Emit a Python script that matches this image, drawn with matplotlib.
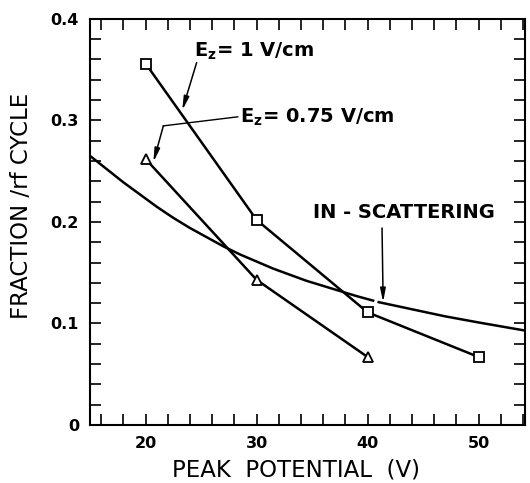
import numpy as np
import matplotlib
matplotlib.use("Agg")
import matplotlib.pyplot as plt
from matplotlib.ticker import MultipleLocator

# data
v_1 = [20, 30, 40, 50]
frac_1 = [0.356, 0.202, 0.111, 0.067]          # E_z = 1 V/cm
v_075 = [20, 30, 40]
frac_075 = [0.262, 0.143, 0.067]               # E_z = 0.75 V/cm
# in-scattering curve, broken where the arrow meets it
v_scat_a = [15, 16.5, 18, 19.5, 21, 22.5, 24, 25.5, 27, 28.5, 30, 31.5,
            33, 34.5, 36, 37.5, 39, 40.5]
frac_scat_a = [0.265, 0.252, 0.239, 0.227, 0.215, 0.204, 0.194, 0.185,
               0.176, 0.168, 0.161, 0.154, 0.148, 0.142, 0.137, 0.132,
               0.127, 0.1225]
v_scat_b = [41, 44, 47, 50, 54.2]
frac_scat_b = [0.121, 0.114, 0.107, 0.101, 0.093]

xticks = [20, 30, 40, 50]
yticks = [0, 0.1, 0.2, 0.3, 0.4]
yticklabels = ["0", "0.1", "0.2", "0.3", "0.4"]

plt.rcParams['font.family'] = 'DejaVu Sans'

fig = plt.figure(figsize=(5.3, 4.83), dpi=100)
ax = fig.add_axes([0.170, 0.120, 0.821, 0.841])

ax.plot(v_1, frac_1, color='black', lw=1.8, marker='s', ms=7,
        mfc='white', mec='black', mew=1.3)
ax.plot(v_075, frac_075, color='black', lw=1.8, marker='^', ms=7,
        mfc='white', mec='black', mew=1.3)
ax.plot(v_scat_a, frac_scat_a, color='black', lw=1.8)
ax.plot(v_scat_b, frac_scat_b, color='black', lw=1.8)

ax.set_xlim(15, 54.2)
ax.set_ylim(0, 0.4)

ax.set_xticks(xticks)
ax.set_yticks(yticks)
ax.set_yticklabels(yticklabels)
ax.xaxis.set_minor_locator(MultipleLocator(2))
ax.yaxis.set_minor_locator(MultipleLocator(0.02))
ax.tick_params(which='both', direction='in', length=8, width=1.2,
               top=True, right=True)
ax.tick_params(which='major', labelsize=11.5, pad=8)
for lab in ax.get_xticklabels() + ax.get_yticklabels():
    lab.set_fontweight('bold')
for s in ax.spines.values():
    s.set_linewidth(1.5)

ax.set_xlabel("PEAK  POTENTIAL  (V)", fontsize=16.5)
ax.set_ylabel("FRACTION /rf CYCLE", fontsize=16.5)
ax.xaxis.set_label_coords(0.474, -0.083)
ax.yaxis.set_label_coords(-0.131, 0.54)

arrow = dict(arrowstyle='-|>,head_width=0.16,head_length=0.8', color='black',
             lw=1.1, shrinkA=0, shrinkB=0)

ax.text(24.4, 0.368, r"E$_{\mathbf{z}}$= 1 V/cm", fontsize=14,
        fontweight='bold', va='center', ha='left')
ax.annotate("", xy=(23.3, 0.310), xytext=(24.6, 0.357), arrowprops=arrow)

ax.text(28.5, 0.3034, r"E$_{\mathbf{z}}$= 0.75 V/cm", fontsize=14,
        fontweight='bold', va='center', ha='left')
ax.plot([28.3, 21.6], [0.3035, 0.2946], color='black', lw=1.0)
ax.annotate("", xy=(20.7, 0.259), xytext=(21.6, 0.2946), arrowprops=arrow)

ax.text(43.3, 0.2089, "IN - SCATTERING", fontsize=14, fontweight='bold',
        va='center', ha='center')
ax.annotate("", xy=(41.4, 0.121), xytext=(41.3, 0.194), arrowprops=arrow)

fig.savefig("out.png", dpi=100)
